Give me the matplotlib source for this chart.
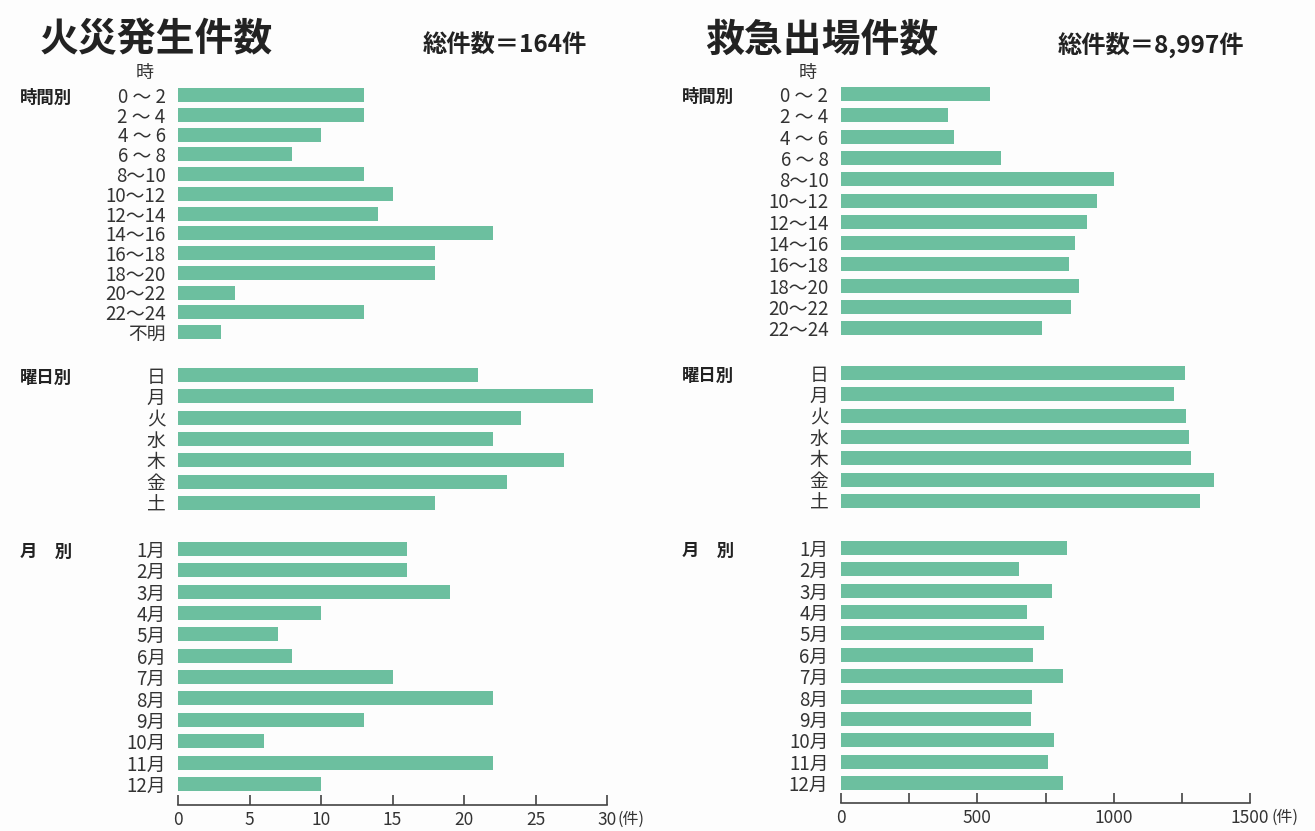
import matplotlib
matplotlib.use("Agg")
import matplotlib.pyplot as plt
import numpy as np

plt.rcParams['font.family'] = ['Noto Sans CJK JP', 'DejaVu Sans']

# ---------------- data ----------------
time_labels_fire = ["0 ～ 2", "2 ～ 4", "4 ～ 6", "6 ～ 8", "8～10", "10～12", "12～14",
                    "14～16", "16～18", "18～20", "20～22", "22～24", "不明"]
time_labels_amb = time_labels_fire[:-1]
day_labels = ["日", "月", "火", "水", "木", "金", "土"]
month_labels = ["1月", "2月", "3月", "4月", "5月", "6月", "7月", "8月", "9月",
                "10月", "11月", "12月"]

fire_time = [13, 13, 10, 8, 13, 15, 14, 22, 18, 18, 4, 13, 3]
fire_day = [21, 29, 24, 22, 27, 23, 18]
fire_month = [16, 16, 19, 10, 7, 8, 15, 22, 13, 6, 22, 10]

amb_time = [546, 392, 414, 587, 1001, 939, 902, 858, 836, 873, 843, 737]
amb_day = [1261, 1221, 1265, 1276, 1283, 1368, 1316]
amb_month = [829, 653, 774, 682, 744, 704, 814, 700, 697, 781, 759, 814]

fire_ticks = [0, 5, 10, 15, 20, 25, 30]
amb_ticks = [0, 250, 500, 750, 1000, 1250, 1500]
amb_ticklabels = ["0", "", "500", "", "1000", "", "1500"]

fire_title = "火災発生件数"
fire_total = "総件数＝164件"
amb_title = "救急出場件数"
amb_total = "総件数＝8,997件"
group_names = ["時間別", "曜日別", "月　別"]

# ---------------- layout ----------------
W, H = 1315, 831
fig = plt.figure(figsize=(W / 100, H / 100), dpi=100)
fig.patch.set_facecolor("#fdfdfd")

BAR = "#6cbf9f"
TXT = "#333333"


def fx(px):
    return px / W


def fy(py):
    return 1 - py / H


def make_panel(x0, x1, yaxis, groups, xmax, ticks, ticklabels,
               head_x, tick_char_x, title, title_x, total, total_x, unit_off):
    ytop = 60
    ax = fig.add_axes([fx(x0), fy(yaxis), fx(x1 - x0), (yaxis - ytop) / H])
    ax.set_facecolor("none")
    ax.set_xlim(0, xmax)
    ax.set_ylim(yaxis, ytop)
    all_pos, all_lab = [], []
    for (labels, vals, start, pitch, bh), gname in zip(groups, group_names):
        pos = start + np.arange(len(vals)) * pitch
        ax.barh(pos, vals, height=bh, color=BAR, edgecolor="none")
        all_pos += list(pos)
        all_lab += list(labels)
        fig.text(fx(head_x), fy(start + 3), gname, fontsize=12.5,
                 fontweight="bold", color="#222222", va="center", ha="left")
    ax.set_yticks(all_pos)
    ax.set_yticklabels(all_lab, fontsize=13.5, color=TXT)
    ax.tick_params(axis="y", length=0, pad=9)
    for s in ["left", "right", "top"]:
        ax.spines[s].set_visible(False)
    ax.spines["bottom"].set_color("#444444")
    ax.spines["bottom"].set_linewidth(1.2)
    ax.set_xticks(ticks)
    ax.set_xticklabels(ticklabels, fontsize=12.5, color=TXT)
    ax.tick_params(axis="x", direction="in", length=7, width=1.2,
                   color="#444444", pad=4)
    # 件 unit
    ax.annotate("(件)", xy=(1, 0), xycoords="axes fraction",
                xytext=(unit_off, -4.5), textcoords="offset points",
                fontsize=11.5, color=TXT, ha="left", va="top")
    # 時 above
    fig.text(fx(tick_char_x), fy(73), "時", fontsize=13, color=TXT,
             ha="center", va="center")
    fig.text(fx(title_x), fy(40), title, fontsize=28, fontweight="bold",
             color="#222222", ha="left", va="center")
    fig.text(fx(total_x), fy(45), total, fontsize=17.5, fontweight="bold",
             color="#222222", ha="left", va="center")
    return ax


fire_groups = [
    (time_labels_fire, fire_time, 95, 19.75, 14),
    (day_labels, fire_day, 375, 21.3, 14),
    (month_labels, fire_month, 549, 21.35, 14),
]
amb_groups = [
    (time_labels_amb, amb_time, 94, 21.3, 14),
    (day_labels, amb_day, 373, 21.3, 14),
    (month_labels, amb_month, 548, 21.35, 14),
]

make_panel(178, 607, 805, fire_groups, 30, fire_ticks,
           [str(t) for t in fire_ticks], 20, 145,
           fire_title, 40, fire_total, 423, 7.5)
make_panel(841, 1250, 803, amb_groups, 1500, amb_ticks,
           amb_ticklabels, 682, 808,
           amb_title, 705, amb_total, 1058, 15.5)

fig.savefig("out.png", dpi=100, facecolor=fig.get_facecolor())
